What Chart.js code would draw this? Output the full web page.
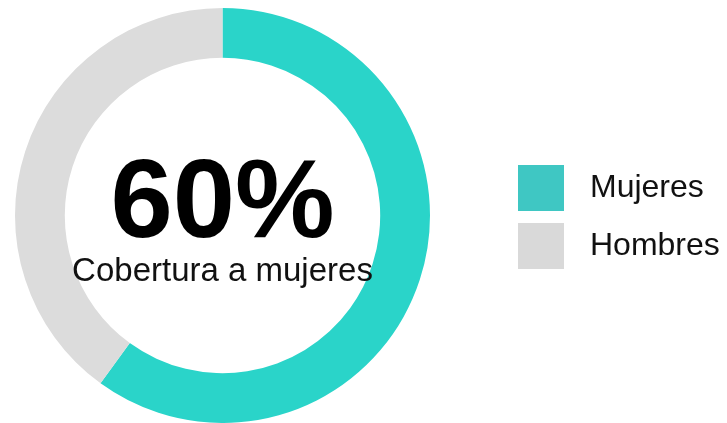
<!DOCTYPE html>
<html>
<head>
<meta charset="utf-8">
<script src="https://cdn.jsdelivr.net/npm/chart.js@4.4.1/dist/chart.umd.min.js"></script>
<style>
  html, body { margin: 0; padding: 0; background: #fff; }
  #wrap { width: 727px; height: 423px; position: relative; }
</style>
</head>
<body>
<div id="wrap"><canvas id="myChart"></canvas></div>
<script>
// data
const labels = ["Mujeres", "Hombres"];
const values = [60, 40];
const ringColors = ["#2ad4c9", "#dcdcdc"];
const legendColors = ["#3fc7c3", "#d9d9d9"];
const centerLabel = "Cobertura a mujeres";

const FONT = '"Liberation Sans", Arial, Helvetica, sans-serif';

// center text: percentage of first category
const centerText = {
  id: "centerText",
  afterDraw(chart) {
    const arc = chart.getDatasetMeta(0).data[0];
    if (!arc) return;
    const ctx = chart.ctx;
    const total = values.reduce((a, b) => a + b, 0);
    const pct = Math.round(values[0] / total * 100) + "%";
    ctx.save();
    ctx.fillStyle = "#000";
    ctx.textAlign = "center";
    ctx.textBaseline = "alphabetic";
    ctx.font = "bold 112px " + FONT;
    ctx.fillText(pct, arc.x, arc.y + 21);
    ctx.font = "33px " + FONT;
    ctx.fillStyle = "#111";
    ctx.fillText(centerLabel, arc.x, arc.y + 65);
    ctx.restore();
  }
};

// legend on the right, drawn from the same arrays
const sideLegend = {
  id: "sideLegend",
  afterDraw(chart) {
    const ctx = chart.ctx;
    const x = chart.chartArea.right + 88;
    const y0 = 165;
    const box = 46;
    const step = 58;
    ctx.save();
    labels.forEach((name, i) => {
      const y = y0 + i * step;
      ctx.fillStyle = legendColors[i];
      ctx.fillRect(x, y, box, box);
      ctx.fillStyle = "#111";
      ctx.font = "32px " + FONT;
      ctx.textAlign = "left";
      ctx.textBaseline = "alphabetic";
      ctx.fillText(name, x + 72, y + 32);
    });
    ctx.restore();
  }
};

new Chart(document.getElementById("myChart"), {
  type: "doughnut",
  data: {
    labels: labels,
    datasets: [{
      data: values,
      backgroundColor: ringColors,
      borderWidth: 0
    }]
  },
  options: {
    responsive: true,
    maintainAspectRatio: false,
    animation: false,
    cutout: "76%",
    layout: { padding: { left: 15, right: 297, top: 8, bottom: 0 } },
    plugins: {
      legend: { display: false },
      tooltip: { enabled: false }
    }
  },
  plugins: [centerText, sideLegend]
});
</script>
</body>
</html>
